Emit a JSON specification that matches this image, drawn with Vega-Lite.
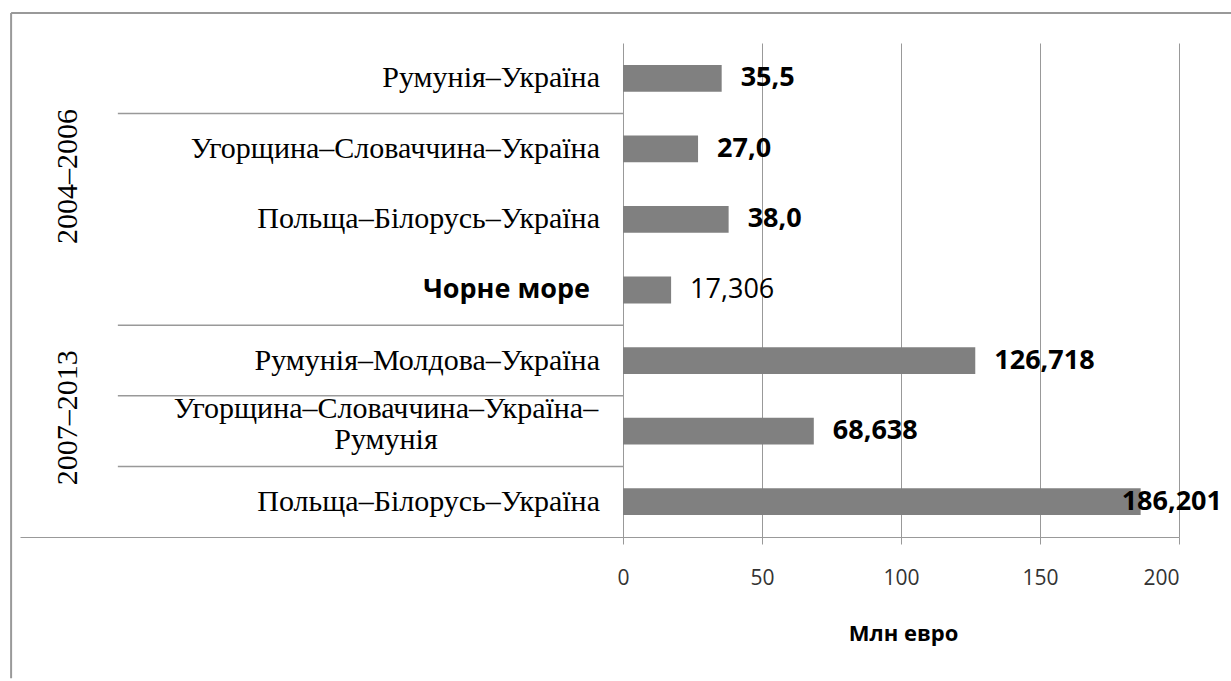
{
  "$schema": "https://vega.github.io/schema/vega-lite/v6.json",
  "autosize": {"type": "none"},
  "width": 1159,
  "height": 494,
  "padding": {"left": 20, "top": 43, "right": 52, "bottom": 144},
  "background": "white",
  "config": {"view": {"stroke": null}},
  "datasets": {
    "rows": [
      {"key": "r1", "name": "Румунія–Україна", "value": 35.5, "label": "35,5"},
      {"key": "r2", "name": "Угорщина–Словаччина–Україна", "value": 27.0, "label": "27,0"},
      {"key": "r3", "name": "Польща–Білорусь–Україна", "value": 38.0, "label": "38,0"},
      {"key": "r4", "name": "Чорне море", "value": 17.306, "label": "17,306"},
      {"key": "r5", "name": "Румунія–Молдова–Україна", "value": 126.718, "label": "126,718"},
      {"key": "r6", "name": "Угорщина–Словаччина–Україна–|Румунія", "value": 68.638, "label": "68,638"},
      {"key": "r7", "name": "Польща–Білорусь–Україна", "value": 186.201, "label": "186,201"}
    ],
    "separators": [{"key": "r2"}, {"key": "r5"}, {"key": "r6"}, {"key": "r7"}],
    "periods": [{"period": "2004–2006"}, {"period": "2007–2013"}],
    "one": [{}]
  },
  "layer": [
    {
      "data": {"name": "rows"},
      "mark": {"type": "bar", "color": "#808080", "height": {"band": 0.38}},
      "encoding": {
        "y": {"field": "key", "type": "nominal", "axis": null,
              "scale": {"domain": ["r1", "r2", "r3", "r4", "r5", "r6", "r7"], "paddingInner": 0, "paddingOuter": 0}},
        "x": {"field": "value", "type": "quantitative",
              "scale": {"domain": [-216.9, 200], "nice": false},
              "axis": {"values": [0, 50, 100, 150, 200], "grid": true, "gridColor": "#999999", "gridWidth": 1,
                       "domainColor": "#999999", "tickColor": "#999999", "tickSize": 7,
                       "labelFont": "Open Sans", "labelFontSize": 21, "labelColor": "#333333", "labelPadding": 23,
                       "title": "Млн евро", "titleFont": "Open Sans", "titleFontSize": 22, "titleFontWeight": "bold",
                       "titleColor": "#000000", "titleX": 883, "titleY": 96, "titleBaseline": "middle", "titleAlign": "center"}},
        "x2": {"datum": 0}
      }
    },
    {
      "data": {"name": "rows"},
      "transform": [{"filter": "datum.key != 'r4' && datum.key != 'r7'"}],
      "mark": {"type": "text", "align": "left", "baseline": "middle", "dx": 19, "font": "Open Sans", "fontSize": 27, "fontWeight": "bold", "color": "#000000"},
      "encoding": {
        "y": {"field": "key", "type": "nominal"},
        "x": {"field": "value", "type": "quantitative"},
        "text": {"field": "label"}
      }
    },
    {
      "data": {"name": "rows"},
      "transform": [{"filter": "datum.key == 'r4'"}],
      "mark": {"type": "text", "align": "left", "baseline": "middle", "dx": 19, "font": "Open Sans", "fontSize": 27, "fontWeight": "normal", "color": "#000000"},
      "encoding": {
        "y": {"field": "key", "type": "nominal"},
        "x": {"field": "value", "type": "quantitative"},
        "text": {"field": "label"}
      }
    },
    {
      "data": {"name": "rows"},
      "transform": [{"filter": "datum.key == 'r7'"}],
      "mark": {"type": "text", "align": "left", "baseline": "middle", "dx": -19, "font": "Open Sans", "fontSize": 27, "fontWeight": "bold", "color": "#000000"},
      "encoding": {
        "y": {"field": "key", "type": "nominal"},
        "x": {"field": "value", "type": "quantitative"},
        "text": {"field": "label"}
      }
    },
    {
      "data": {"name": "rows"},
      "transform": [{"filter": "datum.key != 'r4' && datum.key != 'r6'"}],
      "mark": {"type": "text", "align": "right", "baseline": "middle", "dx": -23, "font": "Liberation Serif", "fontSize": 30, "color": "#000000"},
      "encoding": {
        "y": {"field": "key", "type": "nominal"},
        "x": {"datum": 0},
        "text": {"field": "name"}
      }
    },
    {
      "data": {"name": "rows"},
      "transform": [{"filter": "datum.key == 'r4'"}],
      "mark": {"type": "text", "align": "right", "baseline": "middle", "dx": -33, "font": "Open Sans", "fontSize": 27, "fontWeight": "bold", "color": "#000000"},
      "encoding": {
        "y": {"field": "key", "type": "nominal"},
        "x": {"datum": 0},
        "text": {"field": "name"}
      }
    },
    {
      "data": {"name": "rows"},
      "transform": [{"filter": "datum.key == 'r6'"}],
      "mark": {"type": "text", "align": "center", "baseline": "middle", "dx": -237, "dy": -22, "lineBreak": "|", "lineHeight": 31, "font": "Liberation Serif", "fontSize": 30, "color": "#000000"},
      "encoding": {
        "y": {"field": "key", "type": "nominal"},
        "x": {"datum": 0},
        "text": {"field": "name"}
      }
    },
    {
      "data": {"name": "separators"},
      "mark": {"type": "rule", "color": "#999999", "strokeWidth": 1.5},
      "encoding": {
        "y": {"field": "key", "type": "nominal", "bandPosition": 0},
        "x": {"datum": -181.7},
        "x2": {"datum": 0}
      }
    },
    {
      "data": {"name": "periods"},
      "transform": [{"filter": "datum.period == '2004–2006'"}],
      "mark": {"type": "text", "angle": 270, "align": "center", "baseline": "middle", "font": "Liberation Serif", "fontSize": 30, "color": "#000000"},
      "encoding": {
        "y": {"datum": "r3", "type": "nominal", "bandPosition": -0.108},
        "x": {"datum": -199.6},
        "text": {"field": "period"}
      }
    },
    {
      "data": {"name": "periods"},
      "transform": [{"filter": "datum.period == '2007–2013'"}],
      "mark": {"type": "text", "angle": 270, "align": "center", "baseline": "middle", "font": "Liberation Serif", "fontSize": 30, "color": "#000000"},
      "encoding": {
        "y": {"datum": "r6", "type": "nominal", "bandPosition": 0.31},
        "x": {"datum": -199.6},
        "text": {"field": "period"}
      }
    },
    {
      "data": {"name": "one"},
      "mark": {"type": "rule", "color": "#999999", "strokeWidth": 2},
      "encoding": {
        "y": {"datum": "r1", "type": "nominal", "bandPosition": -0.425},
        "x": {"datum": -220.1},
        "x2": {"datum": 240}
      }
    },
    {
      "data": {"name": "one"},
      "mark": {"type": "rule", "color": "#999999", "strokeWidth": 2},
      "encoding": {
        "x": {"datum": -220.1},
        "y": {"datum": "r1", "type": "nominal", "bandPosition": -0.425},
        "y2": {"datum": "r7", "bandPosition": 3}
      }
    }
  ]
}
